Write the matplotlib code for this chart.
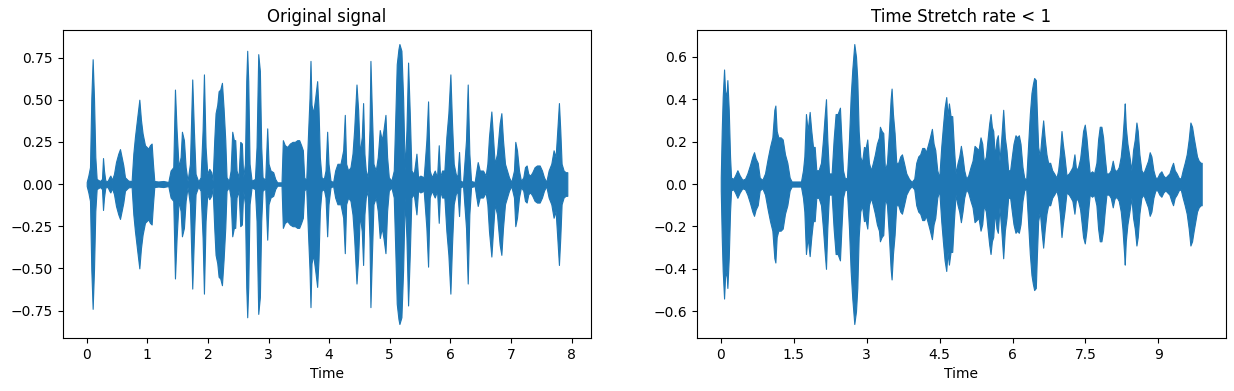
import numpy as np
import matplotlib
matplotlib.use("Agg")
import matplotlib.pyplot as plt
from matplotlib.ticker import MultipleLocator, FuncFormatter

# envelope of the original signal (time in s, max |amplitude|)
orig_t = [0.0, 0.027, 0.054, 0.076, 0.098, 0.120, 0.142, 0.164, 0.219, 0.252,
          0.269, 0.285, 0.307, 0.345, 0.373, 0.390, 0.417, 0.450, 0.483, 0.521,
          0.549, 0.576, 0.604, 0.631, 0.686, 0.741, 0.769, 0.796, 0.835, 0.868,
          0.895, 0.922, 0.961, 0.988, 1.016, 1.043, 1.071, 1.093, 1.115, 1.181,
          1.264, 1.346, 1.384, 1.428, 1.456, 1.483, 1.516, 1.549, 1.571, 1.604,
          1.632, 1.664, 1.703, 1.741, 1.768, 1.796, 1.840, 1.879, 1.912, 1.934,
          1.961, 1.989, 2.022, 2.055, 2.077, 2.104, 2.126, 2.154, 2.176, 2.203,
          2.231, 2.258, 2.286, 2.307, 2.346, 2.374, 2.401, 2.428, 2.450, 2.472,
          2.505, 2.533, 2.560, 2.582, 2.610, 2.632, 2.648, 2.665, 2.687, 2.720,
          2.775, 2.802, 2.830, 2.857, 2.879, 2.901, 2.945, 2.978, 3.000, 3.033,
          3.077, 3.110, 3.143, 3.214, 3.236, 3.269, 3.308, 3.352, 3.396, 3.434,
          3.473, 3.505, 3.538, 3.566, 3.588, 3.621, 3.654, 3.676, 3.692, 3.709,
          3.736, 3.769, 3.802, 3.824, 3.846, 3.874, 3.912, 3.940, 3.967, 3.989,
          4.022, 4.066, 4.099, 4.137, 4.187, 4.231, 4.258, 4.280, 4.313, 4.352,
          4.385, 4.412, 4.451, 4.478, 4.505, 4.538, 4.560, 4.582, 4.604, 4.637,
          4.665, 4.681, 4.703, 4.731, 4.769, 4.802, 4.835, 4.868, 4.896, 4.929,
          4.956, 4.984, 5.027, 5.066, 5.093, 5.115, 5.143, 5.159, 5.192, 5.220,
          5.247, 5.275, 5.302, 5.330, 5.357, 5.396, 5.440, 5.467, 5.505, 5.560,
          5.604, 5.632, 5.659, 5.692, 5.742, 5.780, 5.808, 5.830, 5.863, 5.901,
          5.934, 5.967, 6.000, 6.027, 6.055, 6.088, 6.115, 6.143, 6.165, 6.209,
          6.258, 6.286, 6.313, 6.341, 6.401, 6.429, 6.451, 6.484, 6.538, 6.582,
          6.610, 6.637, 6.676, 6.703, 6.731, 6.769, 6.813, 6.841, 6.868, 6.901,
          6.934, 6.967, 7.005, 7.049, 7.071, 7.099, 7.132, 7.165, 7.203, 7.231,
          7.258, 7.286, 7.319, 7.352, 7.390, 7.429, 7.473, 7.511, 7.544, 7.582,
          7.621, 7.665, 7.703, 7.736, 7.764, 7.791, 7.813, 7.835, 7.868, 7.901,
          7.929]
orig_env = [0.012, 0.05, 0.10, 0.51, 0.74, 0.51, 0.16, 0.03, 0.018, 0.03,
            0.154, 0.08, 0.02, 0.018, 0.04, 0.05, 0.025, 0.06, 0.13, 0.18,
            0.207, 0.16, 0.11, 0.04, 0.02, 0.018, 0.18, 0.28, 0.40, 0.50,
            0.38, 0.30, 0.23, 0.22, 0.21, 0.23, 0.24, 0.12, 0.018, 0.015,
            0.018, 0.012, 0.08, 0.10, 0.56, 0.32, 0.10, 0.16, 0.31, 0.26,
            0.10, 0.018, 0.12, 0.62, 0.32, 0.06, 0.015, 0.04, 0.32, 0.65,
            0.22, 0.06, 0.09, 0.07, 0.02, 0.26, 0.42, 0.47, 0.55, 0.56,
            0.60, 0.45, 0.26, 0.04, 0.018, 0.08, 0.31, 0.26, 0.26, 0.08,
            0.04, 0.25, 0.24, 0.04, 0.12, 0.61, 0.79, 0.61, 0.12, 0.02,
            0.03, 0.22, 0.77, 0.67, 0.22, 0.04, 0.025, 0.33, 0.12, 0.08,
            0.07, 0.03, 0.01, 0.01, 0.26, 0.23, 0.22, 0.24, 0.25, 0.25,
            0.26, 0.26, 0.23, 0.20, 0.04, 0.02, 0.32, 0.51, 0.73, 0.47,
            0.42, 0.51, 0.61, 0.45, 0.16, 0.04, 0.03, 0.08, 0.31, 0.12,
            0.02, 0.012, 0.08, 0.12, 0.12, 0.20, 0.41, 0.12, 0.08, 0.10,
            0.18, 0.32, 0.59, 0.44, 0.18, 0.28, 0.48, 0.18, 0.08, 0.04,
            0.32, 0.73, 0.45, 0.12, 0.08, 0.16, 0.32, 0.26, 0.32, 0.41,
            0.16, 0.04, 0.02, 0.08, 0.42, 0.71, 0.80, 0.83, 0.79, 0.51,
            0.08, 0.32, 0.72, 0.42, 0.08, 0.06, 0.18, 0.04, 0.05, 0.04,
            0.26, 0.49, 0.08, 0.04, 0.08, 0.04, 0.23, 0.04, 0.08, 0.08,
            0.28, 0.42, 0.65, 0.36, 0.12, 0.06, 0.04, 0.19, 0.02, 0.012,
            0.26, 0.59, 0.18, 0.018, 0.012, 0.08, 0.13, 0.08, 0.08, 0.05,
            0.12, 0.28, 0.43, 0.28, 0.12, 0.18, 0.36, 0.42, 0.26, 0.12,
            0.08, 0.04, 0.012, 0.08, 0.25, 0.20, 0.08, 0.018, 0.04, 0.10,
            0.11, 0.06, 0.05, 0.07, 0.10, 0.11, 0.11, 0.08, 0.04, 0.012,
            0.08, 0.12, 0.20, 0.16, 0.32, 0.48, 0.32, 0.12, 0.08, 0.07,
            0.07]

# envelope of the time-stretched signal
slow_t = [0.0, 0.020, 0.040, 0.068, 0.088, 0.116, 0.136, 0.164, 0.191, 0.212,
          0.259, 0.294, 0.342, 0.390, 0.444, 0.499, 0.547, 0.602, 0.650, 0.684,
          0.718, 0.760, 0.801, 0.856, 0.910, 0.965, 1.013, 1.061, 1.102, 1.123,
          1.150, 1.184, 1.232, 1.274, 1.321, 1.369, 1.417, 1.458, 1.650, 1.691,
          1.719, 1.752, 1.787, 1.828, 1.862, 1.897, 1.931, 1.965, 2.013, 2.061,
          2.102, 2.136, 2.164, 2.191, 2.225, 2.280, 2.321, 2.362, 2.403, 2.451,
          2.479, 2.513, 2.554, 2.595, 2.637, 2.671, 2.705, 2.746, 2.781, 2.808,
          2.836, 2.869, 2.904, 2.945, 2.979, 3.013, 3.047, 3.088, 3.129, 3.170,
          3.211, 3.253, 3.273, 3.308, 3.342, 3.377, 3.418, 3.459, 3.493, 3.513,
          3.541, 3.575, 3.609, 3.650, 3.691, 3.726, 3.767, 3.815, 3.870, 3.925,
          3.979, 4.020, 4.061, 4.102, 4.143, 4.184, 4.219, 4.267, 4.301, 4.342,
          4.377, 4.411, 4.452, 4.493, 4.534, 4.568, 4.603, 4.637, 4.664, 4.692,
          4.726, 4.760, 4.794, 4.829, 4.870, 4.904, 4.938, 4.972, 5.006, 5.048,
          5.089, 5.137, 5.178, 5.219, 5.260, 5.301, 5.342, 5.377, 5.411, 5.452,
          5.486, 5.520, 5.548, 5.575, 5.603, 5.637, 5.671, 5.698, 5.732, 5.767,
          5.808, 5.842, 5.876, 5.910, 5.951, 5.986, 6.020, 6.061, 6.096, 6.130,
          6.164, 6.205, 6.240, 6.281, 6.322, 6.356, 6.390, 6.418, 6.445, 6.479,
          6.499, 6.527, 6.561, 6.595, 6.630, 6.664, 6.698, 6.732, 6.774, 6.815,
          6.856, 6.904, 6.938, 6.973, 7.007, 7.034, 7.068, 7.110, 7.158, 7.198,
          7.232, 7.273, 7.308, 7.349, 7.390, 7.424, 7.451, 7.486, 7.520, 7.554,
          7.588, 7.636, 7.677, 7.725, 7.760, 7.794, 7.828, 7.862, 7.896, 7.931,
          7.979, 8.020, 8.061, 8.096, 8.137, 8.185, 8.226, 8.260, 8.295, 8.308,
          8.329, 8.363, 8.404, 8.445, 8.479, 8.514, 8.548, 8.575, 8.609, 8.650,
          8.691, 8.739, 8.787, 8.821, 8.856, 8.897, 8.938, 8.979, 9.020, 9.061,
          9.102, 9.143, 9.184, 9.226, 9.267, 9.301, 9.335, 9.376, 9.417, 9.459,
          9.500, 9.541, 9.582, 9.623, 9.658, 9.692, 9.726, 9.760, 9.794, 9.829,
          9.870, 9.890]
slow_env = [0.03, 0.25, 0.41, 0.54, 0.44, 0.41, 0.49, 0.35, 0.13, 0.03,
            0.025, 0.04, 0.065, 0.04, 0.02, 0.025, 0.05, 0.09, 0.13, 0.15,
            0.12, 0.10, 0.03, 0.02, 0.05, 0.12, 0.175, 0.22, 0.35, 0.37,
            0.25, 0.22, 0.22, 0.21, 0.14, 0.10, 0.03, 0.012, 0.012, 0.065,
            0.13, 0.33, 0.25, 0.34, 0.25, 0.175, 0.175, 0.065, 0.065, 0.10,
            0.21, 0.32, 0.40, 0.21, 0.05, 0.05, 0.21, 0.33, 0.33, 0.36,
            0.22, 0.065, 0.025, 0.03, 0.21, 0.41, 0.54, 0.66, 0.60, 0.49,
            0.25, 0.13, 0.10, 0.175, 0.17, 0.21, 0.10, 0.065, 0.10, 0.14,
            0.19, 0.22, 0.27, 0.25, 0.24, 0.065, 0.10, 0.25, 0.40, 0.45,
            0.33, 0.24, 0.10, 0.10, 0.13, 0.14, 0.10, 0.05, 0.025, 0.01,
            0.025, 0.10, 0.13, 0.14, 0.17, 0.17, 0.15, 0.19, 0.22, 0.26,
            0.19, 0.16, 0.065, 0.03, 0.175, 0.27, 0.36, 0.41, 0.32, 0.38,
            0.32, 0.32, 0.175, 0.05, 0.10, 0.13, 0.18, 0.13, 0.065, 0.025,
            0.04, 0.08, 0.11, 0.18, 0.17, 0.16, 0.22, 0.19, 0.10, 0.13,
            0.21, 0.285, 0.33, 0.27, 0.25, 0.13, 0.21, 0.23, 0.11, 0.21,
            0.35, 0.22, 0.16, 0.065, 0.065, 0.13, 0.19, 0.23, 0.22, 0.23,
            0.19, 0.08, 0.03, 0.02, 0.19, 0.33, 0.43, 0.47, 0.50, 0.49,
            0.35, 0.175, 0.13, 0.22, 0.30, 0.21, 0.14, 0.10, 0.10, 0.065,
            0.05, 0.03, 0.065, 0.14, 0.25, 0.19, 0.13, 0.04, 0.05, 0.065,
            0.08, 0.14, 0.065, 0.08, 0.12, 0.19, 0.25, 0.28, 0.22, 0.13,
            0.05, 0.06, 0.05, 0.10, 0.21, 0.27, 0.27, 0.22, 0.13, 0.05,
            0.05, 0.065, 0.11, 0.07, 0.06, 0.08, 0.13, 0.21, 0.33, 0.38,
            0.27, 0.19, 0.13, 0.065, 0.16, 0.21, 0.29, 0.25, 0.14, 0.065,
            0.05, 0.08, 0.11, 0.15, 0.13, 0.065, 0.03, 0.03, 0.05, 0.06,
            0.04, 0.03, 0.04, 0.05, 0.08, 0.10, 0.065, 0.05, 0.03, 0.025,
            0.065, 0.10, 0.14, 0.21, 0.29, 0.27, 0.22, 0.175, 0.13, 0.11,
            0.10, 0.10]

titles = ["Original signal", "Time Stretch rate < 1"]
wave_color = "#1f77b4"

fig = plt.figure(figsize=(12.34, 3.91), dpi=100)
ax1 = fig.add_axes([0.0508, 0.1355, 0.4284, 0.7877])
ax2 = fig.add_axes([0.5646, 0.1355, 0.4287, 0.7877])

for ax, t, env, title in zip([ax1, ax2], [orig_t, slow_t], [orig_env, slow_env], titles):
    t = np.asarray(t)
    env = np.asarray(env)
    ax.fill_between(t, -env, env, color=wave_color, lw=0.8)
    ax.set_title(title)
    ax.set_xlabel("Time")
    ax.margins(x=0.05, y=0.05)

# librosa-style time ticks on the stretched plot
ax2.xaxis.set_major_locator(MultipleLocator(1.5))
ax2.xaxis.set_major_formatter(FuncFormatter(lambda v, pos: "{:g}".format(v)))
ax2.yaxis.set_major_locator(MultipleLocator(0.2))

fig.savefig("out.png", dpi=100)
